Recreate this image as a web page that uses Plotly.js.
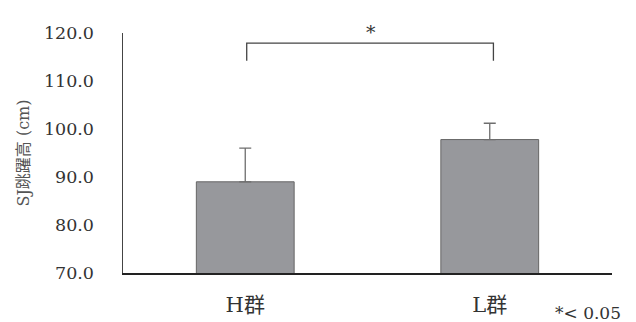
<!DOCTYPE html>
<html>
<head>
<meta charset="utf-8">
<script src="https://cdn.plot.ly/plotly-3.0.1.min.js"></script>
<style>html,body{margin:0;padding:0;background:#fff;}#chart{width:636px;height:322px;}</style>
</head>
<body>
<div id="chart"></div>
<script>
const categories = ["H群", "L群"];
const means = [89.0, 97.8];
const sds = [7.0, 3.4];
const bracketLow = 114.2;
const bracketHigh = 117.9;
const starLabel = "*";
const pNote = "*< 0.05";
const yTitle = "SJ跳躍高 (cm)";

const serif = "DejaVu Serif, Noto Sans CJK JP, serif";

const trace = {
  type: "bar",
  x: categories,
  y: means,
  width: 0.4,
  marker: {color: "#97989c", line: {color: "#666666", width: 1}},
  error_y: {type: "data", array: sds, visible: true, symmetric: false, arrayminus: [0, 0],
            color: "#6e6e6e", thickness: 1.3, width: 6},
  hoverinfo: "skip"
};

const layout = {
  width: 636, height: 322,
  margin: {l: 123, r: 24, t: 33, b: 49},
  paper_bgcolor: "#ffffff", plot_bgcolor: "#ffffff",
  showlegend: false,
  bargap: 0.6,
  xaxis: {
    type: "category",
    showline: true, linecolor: "#222222", linewidth: 2,
    showgrid: false, zeroline: false, ticks: "",
    tickfont: {family: serif, size: 21, color: "#333333"},
    ticklabelstandoff: 12
  },
  yaxis: {
    range: [70, 120], dtick: 10, tick0: 70, tickformat: ".1f",
    showline: true, linecolor: "#444444", linewidth: 1.5,
    showgrid: false, zeroline: false, ticks: "",
    tickfont: {family: serif, size: 17.5, color: "#333333"},
    ticklabelstandoff: 24,
    title: {text: yTitle, font: {family: serif, size: 16, color: "#555555"}, standoff: 10}
  },
  shapes: [{
    type: "path", xref: "x", yref: "y",
    path: "M 0.006," + bracketLow + " L 0.006," + bracketHigh + " L 1.015," + bracketHigh + " L 1.015," + bracketLow,
    line: {color: "#444444", width: 1.3}
  }],
  annotations: [
    {text: starLabel, xref: "paper", yref: "paper", x: 0.508, y: 1.005, xanchor: "center", yanchor: "middle",
     showarrow: false, font: {family: serif, size: 19, color: "#333333"}},
    {text: pNote, xref: "paper", yref: "paper", x: 1.022, y: -0.165, xanchor: "right", yanchor: "middle",
     showarrow: false, font: {family: serif, size: 17, color: "#333333"}}
  ]
};

Plotly.newPlot("chart", [trace], layout, {displayModeBar: false, staticPlot: true});
</script>
</body>
</html>
